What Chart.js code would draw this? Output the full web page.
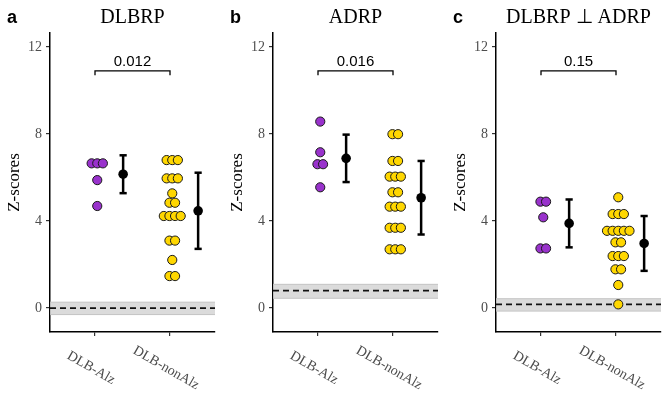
<!DOCTYPE html>
<html>
<head>
<meta charset="utf-8">
<script src="https://cdn.jsdelivr.net/npm/chart.js@4"></script>
<style>
  body { margin: 0; background: #fff; }
  #wrap { position: relative; width: 669px; height: 418px; }
  .panel { position: absolute; top: 0; width: 223px; height: 418px; }
</style>
</head>
<body>
<div id="wrap">
  <div class="panel" style="left:0"><canvas id="panelA"></canvas></div>
  <div class="panel" style="left:223px"><canvas id="panelB"></canvas></div>
  <div class="panel" style="left:446px"><canvas id="panelC"></canvas></div>
</div>
<script>
// categories and tick labels
const groups = ['DLB-Alz', 'DLB-nonAlz'];
const yTicks = [0, 4, 8, 12];
const titles = ['DLBRP', 'ADRP', 'DLBRP \u22A5 ADRP'];
const letters = ['a', 'b', 'c'];
const pValues = ['0.012', '0.016', '0.15'];
const bracketY = 10.9;
const bracketDrop = 0.2;

// panel a - DLBRP
const alzA = [6.65, 6.65, 6.65, 5.88, 4.69];
const nonAlzA = [6.80, 6.80, 6.80, 5.96, 5.96, 5.96, 5.27, 4.84, 4.84, 4.23, 4.23, 4.23, 4.23, 3.10, 3.10, 2.21, 1.47, 1.47];
const meanA = [6.15, 4.47];
const sdA = [0.87, 1.75];
const refA = 0;
const bandA = [-0.3, 0.27];

// panel b - ADRP
const alzB = [8.57, 7.16, 6.61, 6.61, 5.55];
const nonAlzB = [7.99, 7.99, 6.76, 6.76, 6.04, 6.04, 6.04, 5.32, 5.32, 4.66, 4.66, 4.66, 3.69, 3.69, 3.69, 2.70, 2.70, 2.70];
const meanB = [6.88, 5.07];
const sdB = [1.09, 1.69];
const refB = 0.80;
const bandB = [0.45, 1.09];

// panel c - DLBRP orthogonal to ADRP
const alzC = [4.89, 4.89, 4.17, 2.74, 2.74];
const nonAlzC = [5.09, 4.32, 4.32, 4.32, 3.55, 3.55, 3.55, 3.55, 3.55, 3.02, 3.02, 2.39, 2.39, 2.39, 1.78, 1.78, 1.06, 0.17];
const meanC = [3.89, 2.97];
const sdC = [1.10, 1.26];
const refC = 0.17;
const bandC = [-0.14, 0.43];

const X_MIN = 0.4, X_MAX = 2.6;
const DOT_SHIFT = 0.03;   // dots sit slightly right of the tick
const DOT_STEP = 0.075;   // horizontal spacing of tied dots
const BAR_SHIFT = 0.375;  // mean +/- sd drawn to the right of the dots

// spread tied values side by side (simple beeswarm)
function swarm(values, center) {
  const count = {}, seen = {};
  values.forEach(v => { count[v] = (count[v] || 0) + 1; });
  return values.map(v => {
    const i = seen[v] || 0;
    seen[v] = i + 1;
    return { x: center + DOT_SHIFT + (i - (count[v] - 1) / 2) * DOT_STEP, y: v };
  });
}

const panelText = {
  id: 'panelText',
  afterDraw(chart, args, opts) {
    const { ctx, chartArea } = chart;
    const xs = chart.scales.x, ys = chart.scales.y;
    ctx.save();
    ctx.fillStyle = '#000';
    ctx.textBaseline = 'alphabetic';

    ctx.font = 'bold 18px "Liberation Sans", Arial, sans-serif';
    ctx.textAlign = 'left';
    ctx.fillText(opts.letter, 7, 23);

    ctx.font = '20px "Liberation Serif", "Times New Roman", serif';
    ctx.textAlign = 'center';
    ctx.fillText(opts.title, (chartArea.left + chartArea.right) / 2, 23);

    ctx.font = '15px "Liberation Sans", Arial, sans-serif';
    ctx.fillText(opts.p, xs.getPixelForValue(1.5), ys.getPixelForValue(bracketY) - 4.5);

    ctx.save();
    ctx.translate(15, (chartArea.top + chartArea.bottom) / 2);
    ctx.rotate(-Math.PI / 2);
    ctx.font = '17px "Liberation Serif", "Times New Roman", serif';
    ctx.textBaseline = 'middle';
    ctx.fillText('Z-scores', 0, 0);
    ctx.restore();

    ctx.font = '14px "Liberation Serif", "Times New Roman", serif';
    ctx.fillStyle = '#4d4d4d';
    ctx.textBaseline = 'middle';
    groups.forEach((g, i) => {
      ctx.save();
      ctx.translate(xs.getPixelForValue(i + 1) - 4, chartArea.bottom + 36);
      ctx.rotate(Math.PI / 6);
      ctx.fillText(g, 0, 0);
      ctx.restore();
    });
    ctx.restore();
  }
};

function lineSet(data, color, width, order, extra) {
  return Object.assign({
    type: 'line',
    data: data,
    borderColor: color,
    borderWidth: width,
    pointRadius: 0,
    fill: false,
    order: order
  }, extra || {});
}

function makePanel(id, idx, alz, nonAlz, means, sds, ref, band) {
  const ctx = document.getElementById(id).getContext('2d');
  const barX = [1 + BAR_SHIFT, 2 + BAR_SHIFT];

  const datasets = [
    lineSet([{ x: X_MIN, y: band[1] }, { x: X_MAX, y: band[1] }], '#c4c4c4', 1, 20,
      { fill: { value: band[0] }, backgroundColor: 'rgba(210,210,210,0.8)' }),
    lineSet([{ x: X_MIN, y: band[0] }, { x: X_MAX, y: band[0] }], '#c4c4c4', 1, 19),
    lineSet([{ x: X_MIN, y: ref }, { x: X_MAX, y: ref }], '#111', 1.8, 18, { borderDash: [6, 4] }),
    lineSet([
      { x: 1, y: bracketY - bracketDrop }, { x: 1, y: bracketY },
      { x: 2, y: bracketY }, { x: 2, y: bracketY - bracketDrop }
    ], '#000', 1.3, 10),
    {
      data: swarm(alz, 1),
      backgroundColor: '#9932CC', borderColor: '#1a1a1a', borderWidth: 1,
      pointRadius: 4.6, order: 5
    },
    {
      data: swarm(nonAlz, 2),
      backgroundColor: '#FFD700', borderColor: '#1a1a1a', borderWidth: 1,
      pointRadius: 4.6, order: 4
    }
  ];

  means.forEach((m, i) => {
    datasets.push(lineSet([{ x: barX[i], y: m - sds[i] }, { x: barX[i], y: m + sds[i] }], '#000', 2.5, 3));
  });
  datasets.push({
    data: means.flatMap((m, i) => [{ x: barX[i], y: m - sds[i] }, { x: barX[i], y: m + sds[i] }]),
    pointStyle: 'line', pointRadius: 3.6, borderColor: '#000', borderWidth: 2.5, order: 2
  });
  datasets.push({
    data: means.map((m, i) => ({ x: barX[i], y: m })),
    backgroundColor: '#000', borderColor: '#000', borderWidth: 0, pointRadius: 4.8, order: 1
  });

  const grid = { drawOnChartArea: false, drawTicks: true, tickLength: 4, color: '#333', lineWidth: 1.2 };
  const border = { color: '#000', width: 1.5 };

  return new Chart(ctx, {
    type: 'scatter',
    data: { datasets: datasets },
    options: {
      responsive: true,
      maintainAspectRatio: false,
      animation: false,
      layout: { padding: { top: 33, right: 8, left: 0, bottom: 0 } },
      plugins: {
        legend: { display: false },
        tooltip: { enabled: false },
        panelText: { letter: letters[idx], title: titles[idx], p: pValues[idx] }
      },
      scales: {
        x: {
          type: 'linear', min: X_MIN, max: X_MAX,
          afterBuildTicks: s => { s.ticks = [1, 2].map(v => ({ value: v })); },
          afterFit: s => { s.height = 86; },
          ticks: { display: false },
          grid: grid,
          border: border
        },
        y: {
          type: 'linear', min: -1.1, max: 12.64,
          afterBuildTicks: s => { s.ticks = yTicks.map(v => ({ value: v })); },
          afterFit: s => { s.width = 50; },
          ticks: {
            font: { family: '"Liberation Serif", "Times New Roman", serif', size: 14 },
            color: '#4d4d4d',
            padding: 4
          },
          grid: grid,
          border: border
        }
      }
    },
    plugins: [panelText]
  });
}

makePanel('panelA', 0, alzA, nonAlzA, meanA, sdA, refA, bandA);
makePanel('panelB', 1, alzB, nonAlzB, meanB, sdB, refB, bandB);
makePanel('panelC', 2, alzC, nonAlzC, meanC, sdC, refC, bandC);
</script>
</body>
</html>
